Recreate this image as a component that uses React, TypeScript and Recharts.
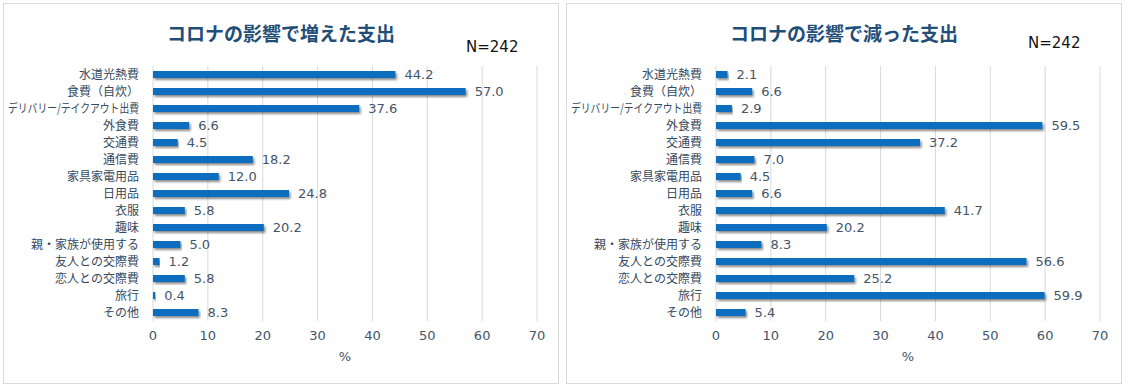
import React from 'react';
import { BarChart, Bar, XAxis, YAxis, CartesianGrid, LabelList } from 'recharts';

const categories = [
  '水道光熱費',
  '食費（自炊）',
  'デリバリー/テイクアウト出費',
  '外食費',
  '交通費',
  '通信費',
  '家具家電用品',
  '日用品',
  '衣服',
  '趣味',
  '親・家族が使用する',
  '友人との交際費',
  '恋人との交際費',
  '旅行',
  'その他',
];

const increased = [44.2, 57.0, 37.6, 6.6, 4.5, 18.2, 12.0, 24.8, 5.8, 20.2, 5.0, 1.2, 5.8, 0.4, 8.3];
const decreased = [2.1, 6.6, 2.9, 59.5, 37.2, 7.0, 4.5, 6.6, 41.7, 20.2, 8.3, 56.6, 25.2, 59.9, 5.4];

const xTicks = [0, 10, 20, 30, 40, 50, 60, 70];

const FONT = '"Noto Sans CJK JP", "Noto Sans", sans-serif';
const NUM_FONT = '"DejaVu Sans", Verdana, sans-serif';
const BAR = '#0F6EBF';
const TEXT = '#44546A';
const LABEL = '#34495E';

const CategoryTick = (props: any) => {
  const { x, y, payload } = props;
  const long = payload.value.length > 10;
  return (
    <text
      x={x - 6}
      y={y}
      dy="0.35em"
      textAnchor="end"
      fontSize={12}
      fill={LABEL}
      fontFamily={FONT}
      {...(long ? { textLength: 131, lengthAdjust: 'spacingAndGlyphs' } : {})}
    >
      {payload.value}
    </text>
  );
};

const Panel = ({ title, values, left, width, id }: any) => {
  const data = categories.map((name, i) => ({ name, value: values[i] }));
  const chartW = width - 2;
  return (
    <div
      style={{
        position: 'absolute',
        left,
        top: 3,
        width: chartW,
        height: 379,
        border: '1px solid #D9D9D9',
        background: '#fff',
        fontFamily: FONT,
      }}
    >
      <div
        style={{
          position: 'absolute',
          left: 0,
          width: chartW,
          top: 15,
          textAlign: 'center',
          fontSize: 19,
          fontWeight: 'bold',
          color: '#1F4E79',
        }}
      >
        {title}
      </div>
      <div
        style={{
          position: 'absolute',
          left: id === 'a' ? 462 : 461,
          top: id === 'a' ? 34 : 30,
          fontSize: 15,
          fontFamily: NUM_FONT,
          color: '#111',
        }}
      >
        N=242
      </div>
      <BarChart
        width={chartW}
        height={379}
        data={data}
        layout="vertical"
        margin={{ top: 62, right: 21, left: 0, bottom: 0 }}
        barCategoryGap={5}
      >
        <defs>
          <filter id={`shadow-${id}`} x="-5%" y="-50%" width="110%" height="250%">
            <feDropShadow dx="1.5" dy="2" stdDeviation="1" floodColor="#000" floodOpacity="0.45" />
          </filter>
        </defs>
        <CartesianGrid horizontal={false} stroke="#D9D9D9" />
        <XAxis
          type="number"
          domain={[0, 70]}
          ticks={xTicks}
          axisLine={false}
          tickLine={false}
          height={62}
          tick={{ fill: TEXT, fontSize: 13, fontFamily: NUM_FONT }}
          tickMargin={4}
        />
        <YAxis
          type="category"
          dataKey="name"
          width={149}
          axisLine={false}
          tickLine={false}
          interval={0}
          tick={<CategoryTick />}
        />
        <Bar dataKey="value" fill={BAR} barSize={7} isAnimationActive={false} filter={`url(#shadow-${id})`}>
          <LabelList
            dataKey="value"
            position="right"
            offset={9}
            formatter={(v: any) => Number(v).toFixed(1)}
            style={{ fill: TEXT, fontSize: 13, fontFamily: NUM_FONT }}
          />
        </Bar>
      </BarChart>
      <div
        style={{
          position: 'absolute',
          left: 149,
          width: chartW - 149 - 21,
          top: 345,
          textAlign: 'center',
          fontSize: 13,
          fontFamily: NUM_FONT,
          color: TEXT,
        }}
      >
        %
      </div>
    </div>
  );
}

export default function App() {
  return (
    <div style={{ position: 'absolute', left: 0, top: 0, width: 1128, height: 389, background: '#fff' }}>
      <Panel id="a" title="コロナの影響で増えた支出" values={increased} left={3} width={556} />
      <Panel id="b" title="コロナの影響で減った支出" values={decreased} left={566} width={556} />
    </div>
  );
}
